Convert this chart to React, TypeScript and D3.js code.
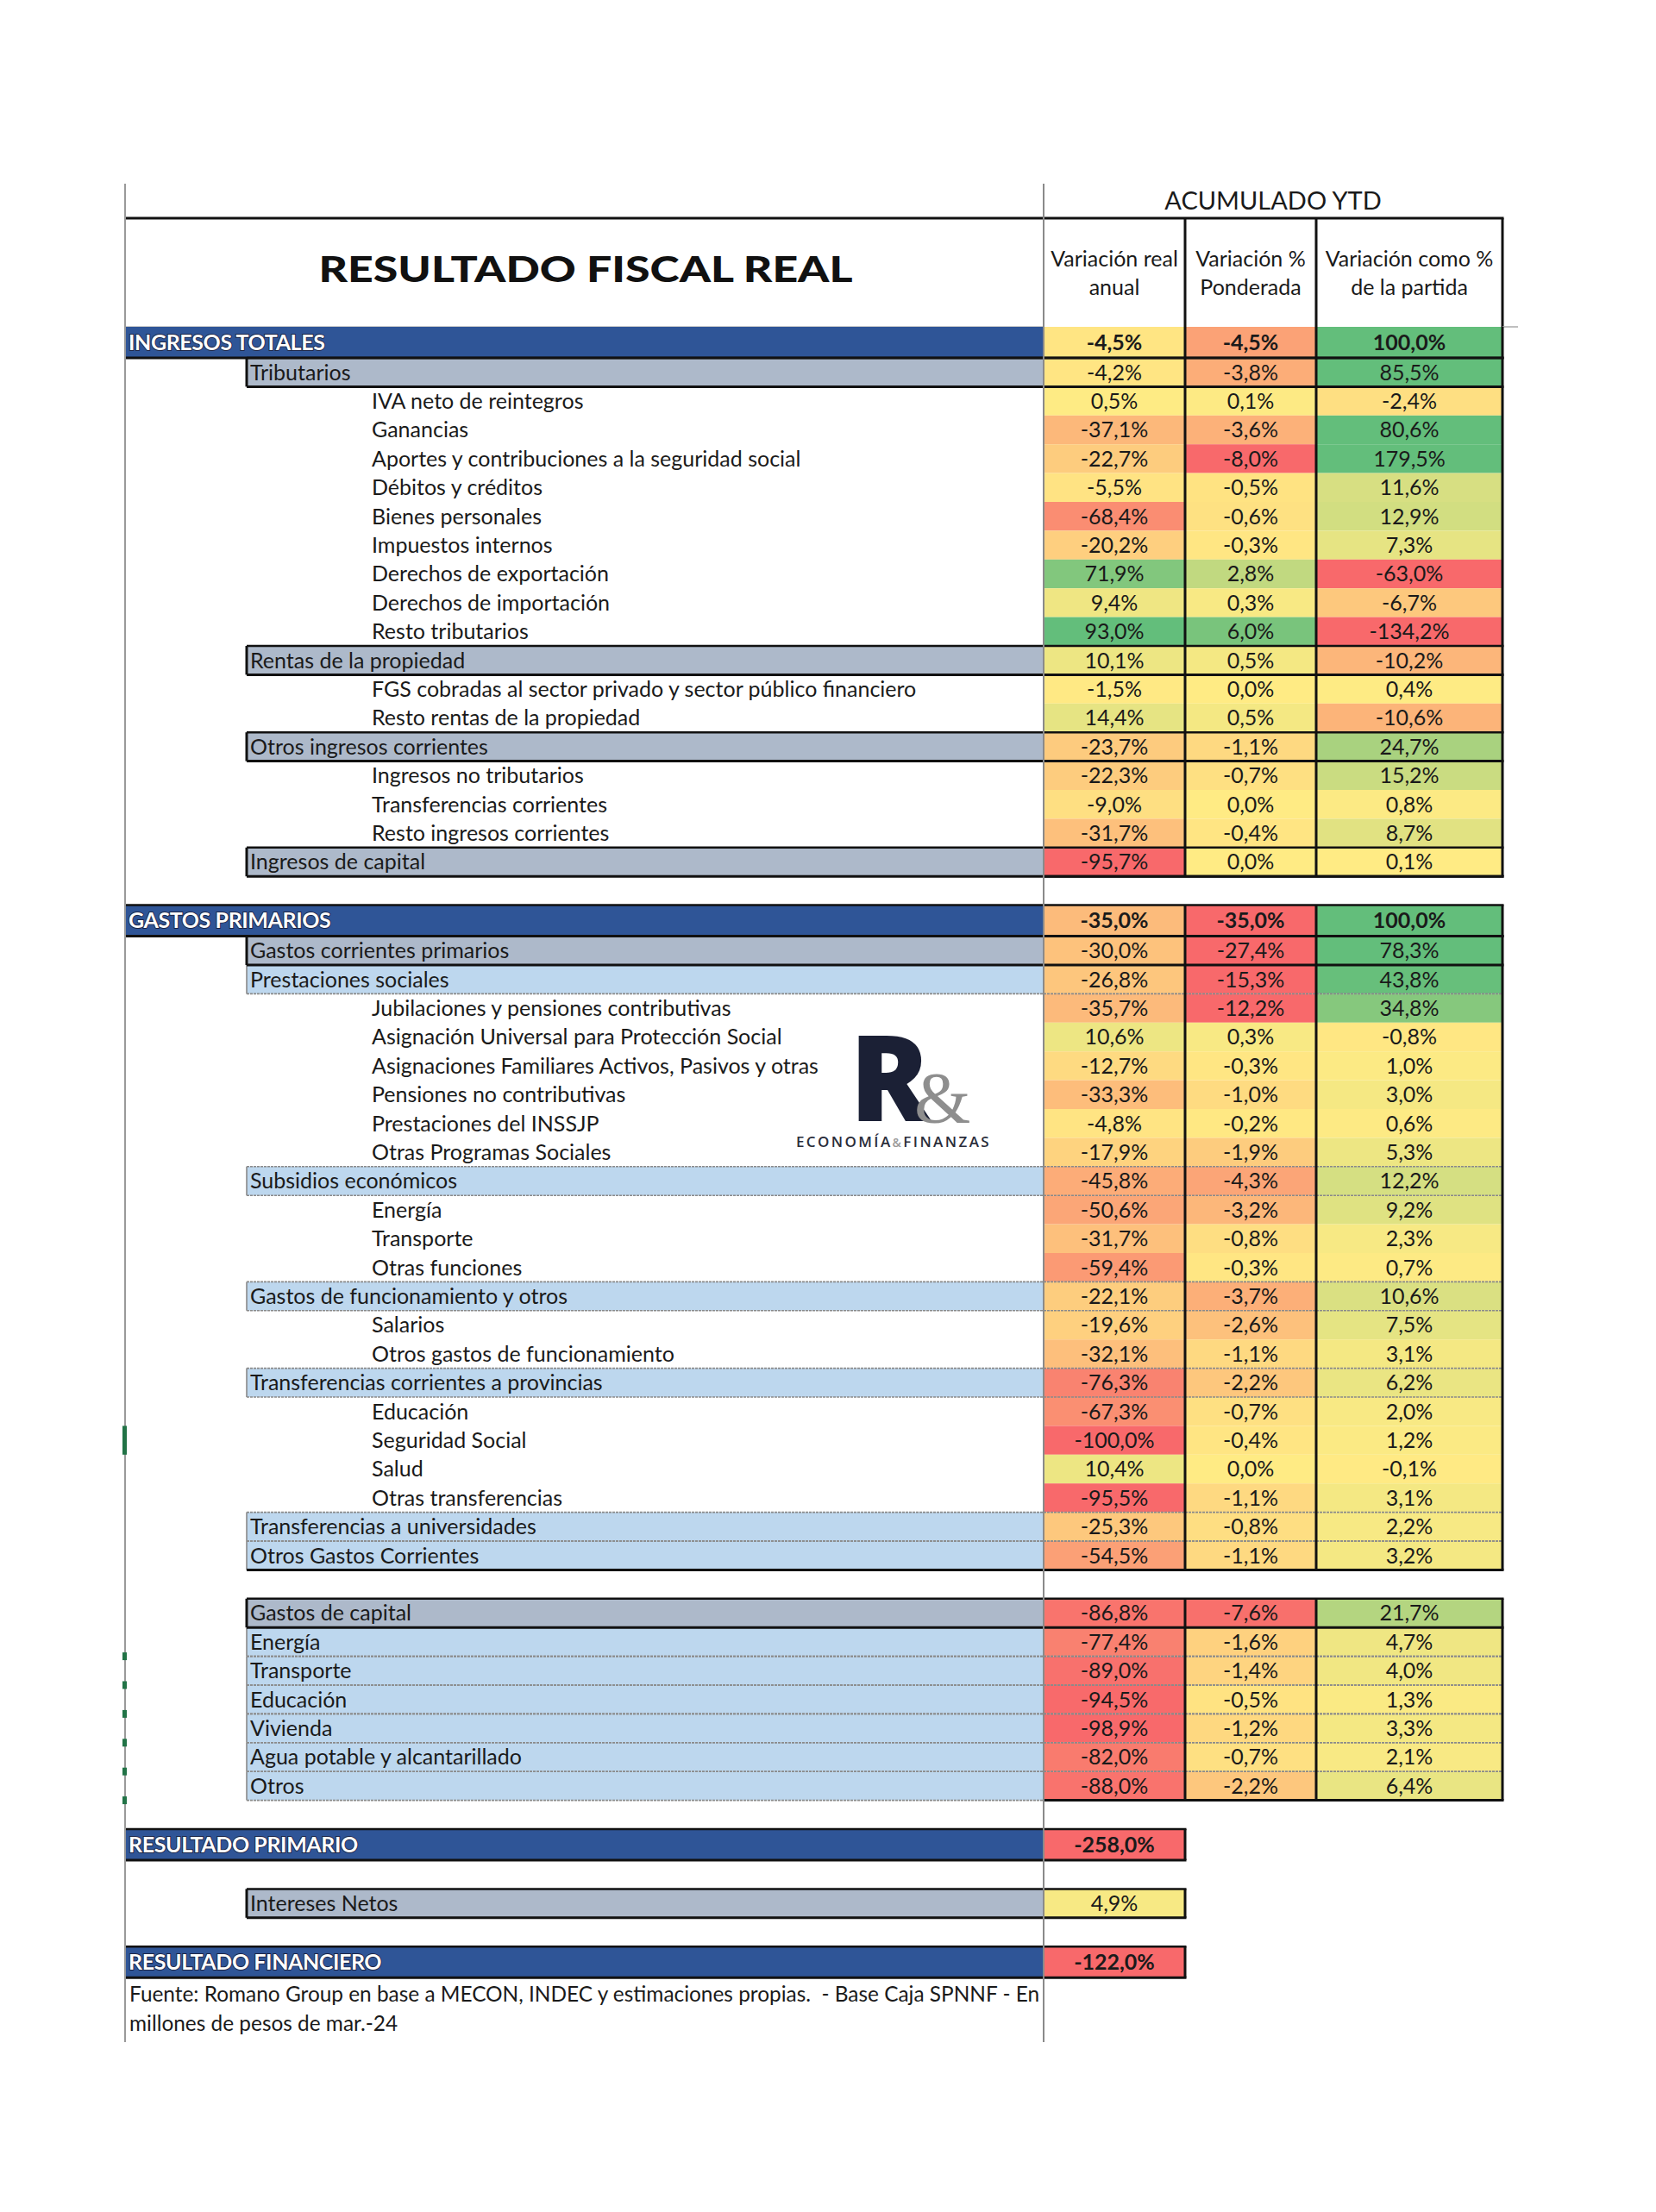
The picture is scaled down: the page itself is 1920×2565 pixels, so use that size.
import React from "react";
import * as d3 from "d3";

// ---------------- DATA ----------------
const title = "RESULTADO FISCAL REAL";
const superHeader = "ACUMULADO YTD";
const columnHeaders = [
  ["Variación real", "anual"],
  ["Variación %", "Ponderada"],
  ["Variación como %", "de la partida"],
];

const rowLabels = [
  "INGRESOS TOTALES",
  "Tributarios",
  "IVA neto de reintegros",
  "Ganancias",
  "Aportes y contribuciones a la seguridad social",
  "Débitos y créditos",
  "Bienes personales",
  "Impuestos internos",
  "Derechos de exportación",
  "Derechos de importación",
  "Resto tributarios",
  "Rentas de la propiedad",
  "FGS cobradas al sector privado y sector público financiero",
  "Resto rentas de la propiedad",
  "Otros ingresos corrientes",
  "Ingresos no tributarios",
  "Transferencias corrientes",
  "Resto ingresos corrientes",
  "Ingresos de capital",
  "",
  "GASTOS PRIMARIOS",
  "Gastos corrientes primarios",
  "Prestaciones sociales",
  "Jubilaciones y pensiones contributivas",
  "Asignación Universal para Protección Social",
  "Asignaciones Familiares Activos, Pasivos y otras",
  "Pensiones no contributivas",
  "Prestaciones del INSSJP",
  "Otras Programas Sociales",
  "Subsidios económicos",
  "Energía",
  "Transporte",
  "Otras funciones",
  "Gastos de funcionamiento y otros",
  "Salarios",
  "Otros gastos de funcionamiento",
  "Transferencias corrientes a provincias",
  "Educación",
  "Seguridad Social",
  "Salud",
  "Otras transferencias",
  "Transferencias a universidades",
  "Otros Gastos Corrientes",
  "",
  "Gastos de capital",
  "Energía",
  "Transporte",
  "Educación",
  "Vivienda",
  "Agua potable y alcantarillado",
  "Otros",
  "",
  "RESULTADO PRIMARIO",
  "",
  "Intereses Netos",
  "",
  "RESULTADO FINANCIERO",
];

// main = blue total row, sub = grey-blue subtotal, sub2 = light-blue subtotal, detail = plain row
const rowKinds = [
  "main", "sub", "detail", "detail", "detail", "detail", "detail", "detail", "detail", "detail", "detail",
  "sub", "detail", "detail", "sub", "detail", "detail", "detail", "sub", "blank",
  "main", "sub", "sub2", "detail", "detail", "detail", "detail", "detail", "detail",
  "sub2", "detail", "detail", "detail", "sub2", "detail", "detail",
  "sub2", "detail", "detail", "detail", "detail", "sub2", "sub2", "blank",
  "sub", "sub2", "sub2", "sub2", "sub2", "sub2", "sub2", "blank",
  "main", "blank", "sub", "blank", "main",
];

const varReal = [
  -4.5, -4.2, 0.5, -37.1, -22.7, -5.5, -68.4, -20.2, 71.9, 9.4, 93.0, 10.1, -1.5, 14.4, -23.7, -22.3, -9.0, -31.7, -95.7, null,
  -35.0, -30.0, -26.8, -35.7, 10.6, -12.7, -33.3, -4.8, -17.9, -45.8, -50.6, -31.7, -59.4, -22.1, -19.6, -32.1,
  -76.3, -67.3, -100.0, 10.4, -95.5, -25.3, -54.5, null,
  -86.8, -77.4, -89.0, -94.5, -98.9, -82.0, -88.0, null,
  -258.0, null, 4.9, null, -122.0,
];

const varPonderada = [
  -4.5, -3.8, 0.1, -3.6, -8.0, -0.5, -0.6, -0.3, 2.8, 0.3, 6.0, 0.5, 0.0, 0.5, -1.1, -0.7, 0.0, -0.4, 0.0, null,
  -35.0, -27.4, -15.3, -12.2, 0.3, -0.3, -1.0, -0.2, -1.9, -4.3, -3.2, -0.8, -0.3, -3.7, -2.6, -1.1,
  -2.2, -0.7, -0.4, 0.0, -1.1, -0.8, -1.1, null,
  -7.6, -1.6, -1.4, -0.5, -1.2, -0.7, -2.2, null,
  null, null, null, null, null,
];

const varPartida = [
  100.0, 85.5, -2.4, 80.6, 179.5, 11.6, 12.9, 7.3, -63.0, -6.7, -134.2, -10.2, 0.4, -10.6, 24.7, 15.2, 0.8, 8.7, 0.1, null,
  100.0, 78.3, 43.8, 34.8, -0.8, 1.0, 3.0, 0.6, 5.3, 12.2, 9.2, 2.3, 0.7, 10.6, 7.5, 3.1,
  6.2, 2.0, 1.2, -0.1, 3.1, 2.2, 3.2, null,
  21.7, 4.7, 4.0, 1.3, 3.3, 2.1, 6.4, null,
  null, null, null, null, null,
];

const footnote = [
  "Fuente: Romano Group en base a MECON, INDEC y estimaciones propias.  - Base Caja SPNNF - En",
  "millones de pesos de mar.-24",
];

// ---------------- LAYOUT / STYLE ----------------
const W = 1920;
const H = 2565;
const FONT = "Lato, 'Open Sans', sans-serif";
const X_LEFT = 145;
const X_SUB = 286;
const X_DETAIL = 431;
const COL_EDGES = [1210, 1374, 1526, 1742];
const Y_TOP_LINE = 253;
const Y_TABLE = 379;
const Y_FRAME_TOP = 213;
const Y_FRAME_BOTTOM = 2368;
const MAIN_H = 36;
const ROW_H = 33.4;
const BLUE = "#2F5597";
const GREYBLUE = "#ADB9CA";
const LIGHTBLUE = "#BDD7EE";
const BLACK = "#111";
const GRID = "#8a8a8a";
const FS = 25;

const locale = d3.formatLocale({
  decimal: ",",
  thousands: ".",
  grouping: [3],
  currency: ["$", ""],
  minus: "-",
});
const fmt1 = locale.format(".1f");
const pct = (v: number) => fmt1(v) + "%";

const colorRange = ["#F8696B", "#FFEB84", "#63BE7B"];
const colorScales = [
  d3.scaleLinear<string>().domain([-95, 0, 90]).range(colorRange).clamp(true),
  d3.scaleLinear<string>().domain([-8, 0, 7]).range(colorRange).clamp(true),
  d3.scaleLinear<string>().domain([-25, 0, 45]).range(colorRange).clamp(true),
];
const columns = [varReal, varPonderada, varPartida];

export default function App() {
  const heights = rowKinds.map((k) => (k === "main" ? MAIN_H : ROW_H));
  const cum = Array.from(d3.cumsum(heights));
  const rowTop = heights.map((h, i) => Y_TABLE + cum[i] - h);
  const rowBottom = rowTop.map((t, i) => t + heights[i]);
  const footTop = Y_TABLE + cum[cum.length - 1];

  const colCenter = (c: number) => (COL_EDGES[c] + COL_EDGES[c + 1]) / 2;

  // blocks of full three-column rows
  const blocks: [number, number][] = [];
  let start = -1;
  rowKinds.forEach((k, i) => {
    const full = varPonderada[i] != null;
    if (full && start < 0) start = i;
    if (!full && start >= 0) {
      blocks.push([start, i - 1]);
      start = -1;
    }
  });
  if (start >= 0) blocks.push([start, rowKinds.length - 1]);

  const elems: React.ReactNode[] = [];

  // label bars
  rowKinds.forEach((k, i) => {
    if (k === "main") {
      elems.push(<rect key={"bar" + i} x={X_LEFT} y={rowTop[i]} width={COL_EDGES[0] - X_LEFT} height={heights[i]} fill={BLUE} />);
    } else if (k === "sub" || k === "sub2") {
      elems.push(
        <rect key={"bar" + i} x={X_SUB} y={rowTop[i]} width={COL_EDGES[0] - X_SUB} height={heights[i]} fill={k === "sub" ? GREYBLUE : LIGHTBLUE} />
      );
    }
  });

  // value cells
  rowKinds.forEach((k, i) => {
    columns.forEach((col, c) => {
      const v = col[i];
      if (v == null) return;
      elems.push(
        <rect
          key={`cell${i}-${c}`}
          x={COL_EDGES[c]}
          y={rowTop[i]}
          width={COL_EDGES[c + 1] - COL_EDGES[c]}
          height={heights[i]}
          fill={colorScales[c](v)}
        />
      );
    });
  });

  // sub2 grey lines
  rowKinds.forEach((k, i) => {
    if (k !== "sub2") return;
    [rowTop[i], rowBottom[i]].forEach((y, j) =>
      elems.push(<line key={`g2${i}-${j}`} x1={X_SUB} x2={COL_EDGES[3]} y1={y} y2={y} stroke={GRID} strokeWidth={1.6} strokeDasharray="3 1" />)
    );
    elems.push(<line key={`g2l${i}`} x1={X_SUB} x2={X_SUB} y1={rowTop[i]} y2={rowBottom[i]} stroke={GRID} strokeWidth={1.6} />);
  });

  // block borders
  blocks.forEach(([a, b], bi) => {
    const y1 = rowTop[a];
    const y2 = rowBottom[b];
    COL_EDGES.slice(1).forEach((x, j) =>
      elems.push(<line key={`bv${bi}-${j}`} x1={x} x2={x} y1={y1} y2={y2} stroke={BLACK} strokeWidth={3} />)
    );
    elems.push(
      <line key={`bb${bi}`} x1={rowKinds[b] === "sub2" && bi === 1 ? X_SUB : COL_EDGES[0]} x2={COL_EDGES[3] + 1.5} y1={y2} y2={y2} stroke={BLACK} strokeWidth={3} />
    );
  });

  // main & sub row black borders
  rowKinds.forEach((k, i) => {
    if (k !== "main" && k !== "sub") return;
    const single = varPonderada[i] == null;
    const xr = single ? COL_EDGES[1] : COL_EDGES[3];
    const xl = k === "main" ? X_LEFT : X_SUB;
    elems.push(<line key={`mt${i}`} x1={xl} x2={xr + 1.5} y1={rowTop[i]} y2={rowTop[i]} stroke={BLACK} strokeWidth={k === "main" && i === 0 ? 0 : 2.5} />);
    elems.push(<line key={`mb${i}`} x1={xl} x2={xr + 1.5} y1={rowBottom[i]} y2={rowBottom[i]} stroke={BLACK} strokeWidth={3} />);
    if (k === "sub") elems.push(<line key={`ml${i}`} x1={X_SUB} x2={X_SUB} y1={rowTop[i]} y2={rowBottom[i]} stroke={BLACK} strokeWidth={3} />);
    if (single) {
      elems.push(<line key={`sr${i}`} x1={COL_EDGES[1]} x2={COL_EDGES[1]} y1={rowTop[i]} y2={rowBottom[i]} stroke={BLACK} strokeWidth={3} />);
      elems.push(<line key={`sl${i}`} x1={COL_EDGES[0]} x2={COL_EDGES[0]} y1={rowTop[i]} y2={rowBottom[i]} stroke={BLACK} strokeWidth={2} />);
    }
  });

  // row labels
  rowKinds.forEach((k, i) => {
    if (k === "blank") return;
    const yb = rowTop[i] + heights[i] / 2 + 8.8;
    if (k === "main") {
      elems.push(
        <text
          key={"lab" + i}
          x={X_LEFT + 4}
          y={yb}
          fontFamily={FONT}
          fontWeight={700}
          fontSize={FS}
          fill="#fff"
          stroke="#1b2445"
          strokeWidth={1.8}
          paintOrder="stroke"
          letterSpacing={-0.4}
        >
          {rowLabels[i]}
        </text>
      );
    } else {
      elems.push(
        <text key={"lab" + i} x={k === "detail" ? X_DETAIL : X_SUB + 4} y={yb} fontFamily={FONT} fontSize={FS} fill="#1a1a1a">
          {rowLabels[i]}
        </text>
      );
    }
  });

  // values
  rowKinds.forEach((k, i) => {
    columns.forEach((col, c) => {
      const v = col[i];
      if (v == null) return;
      elems.push(
        <text
          key={`val${i}-${c}`}
          x={colCenter(c)}
          y={rowTop[i] + heights[i] / 2 + 8.8}
          textAnchor="middle"
          fontFamily={FONT}
          fontSize={FS}
          fontWeight={k === "main" ? 700 : 400}
          fill="#1a1a1a"
        >
          {pct(v)}
        </text>
      );
    });
  });

  // green selection marks at left edge (Excel row markers)
  const marks: React.ReactNode[] = [];
  const tallMark = rowLabels.indexOf("Seguridad Social");
  marks.push(<rect key="gm" x={X_LEFT - 3} y={rowTop[tallMark]} width={5} height={heights[tallMark]} fill="#217346" />);
  rowKinds.forEach((k, i) => {
    if (i > rowLabels.indexOf("Gastos de capital") && i <= rowLabels.indexOf("Otros")) {
      marks.push(<rect key={"gs" + i} x={X_LEFT - 3} y={rowBottom[i] - 4.5} width={5} height={9} fill="#217346" />);
    }
  });

  return (
    <svg
      width={W}
      height={H}
      viewBox={`0 0 ${W} ${H}`}
      style={{ position: "absolute", left: 0, top: 0, display: "block", background: "#fff" }}
    >
      <rect x={0} y={0} width={W} height={H} fill="#fff" />

      {/* super header */}
      <text x={(COL_EDGES[0] + COL_EDGES[3]) / 2} y={243} textAnchor="middle" fontFamily={FONT} fontSize={29} fill="#1a1a1a">
        {superHeader}
      </text>
      <line x1={X_LEFT} x2={COL_EDGES[3] + 1.5} y1={Y_TOP_LINE} y2={Y_TOP_LINE} stroke={BLACK} strokeWidth={3} />
      {COL_EDGES.slice(1).map((x, j) => (
        <line key={"hv" + j} x1={x} x2={x} y1={Y_TOP_LINE} y2={Y_TABLE} stroke={BLACK} strokeWidth={3} />
      ))}
      <line x1={COL_EDGES[3]} x2={1760} y1={Y_TABLE} y2={Y_TABLE} stroke="#aaa" strokeWidth={1.5} />
      <line x1={X_LEFT} x2={COL_EDGES[0]} y1={Y_TABLE} y2={Y_TABLE} stroke="#bbb" strokeWidth={1.5} />

      {/* title */}
      <text
        x={679}
        y={327}
        textAnchor="middle"
        fontFamily={FONT}
        fontWeight={900}
        fontSize={41}
        fill="#111"
        textLength={619}
        lengthAdjust="spacingAndGlyphs"
      >
        {title}
      </text>

      {/* column headers */}
      {columnHeaders.map((lines, c) =>
        lines.map((t, j) => (
          <text key={`ch${c}-${j}`} x={colCenter(c)} y={309 + j * 33} textAnchor="middle" fontFamily={FONT} fontSize={FS} fill="#1a1a1a">
            {t}
          </text>
        ))
      )}

      {elems}

      {/* frame lines */}
      <line x1={X_LEFT} x2={X_LEFT} y1={Y_FRAME_TOP} y2={Y_FRAME_BOTTOM} stroke="#9a9a9a" strokeWidth={2} />
      <line x1={COL_EDGES[0]} x2={COL_EDGES[0]} y1={Y_FRAME_TOP} y2={Y_FRAME_BOTTOM} stroke="#8a8a8a" strokeWidth={2} />
      {marks}

      {/* logo */}
      <g>
        <text x={985} y={1300} fontFamily="'Open Sans', Lato, sans-serif" fontWeight={800} fontSize={138} fill="#1B2035">
          R
        </text>
        <text x={1060} y={1302} fontFamily="'Liberation Serif', 'DejaVu Serif', serif" fontSize={84} fill="#8e8e8e">
          &amp;
        </text>
        <text x={1036} y={1330} textAnchor="middle" fontFamily="'Open Sans', Lato, sans-serif" fontWeight={600} fontSize={17} fill="#2a2d3a" letterSpacing={2.4}>
          ECONOMÍA<tspan fill="#9a9a9a" fontSize={14}>&amp;</tspan>FINANZAS
        </text>
      </g>

      {/* footnote */}
      {footnote.map((t, j) => (
        <text
          key={"fn" + j}
          x={X_LEFT + 5}
          y={footTop + 28 + j * 34}
          fontFamily={FONT}
          fontSize={24.4}
          fill="#1a1a1a"
          style={{ whiteSpace: "pre" }}
        >
          {t}
        </text>
      ))}
    </svg>
  );
}
